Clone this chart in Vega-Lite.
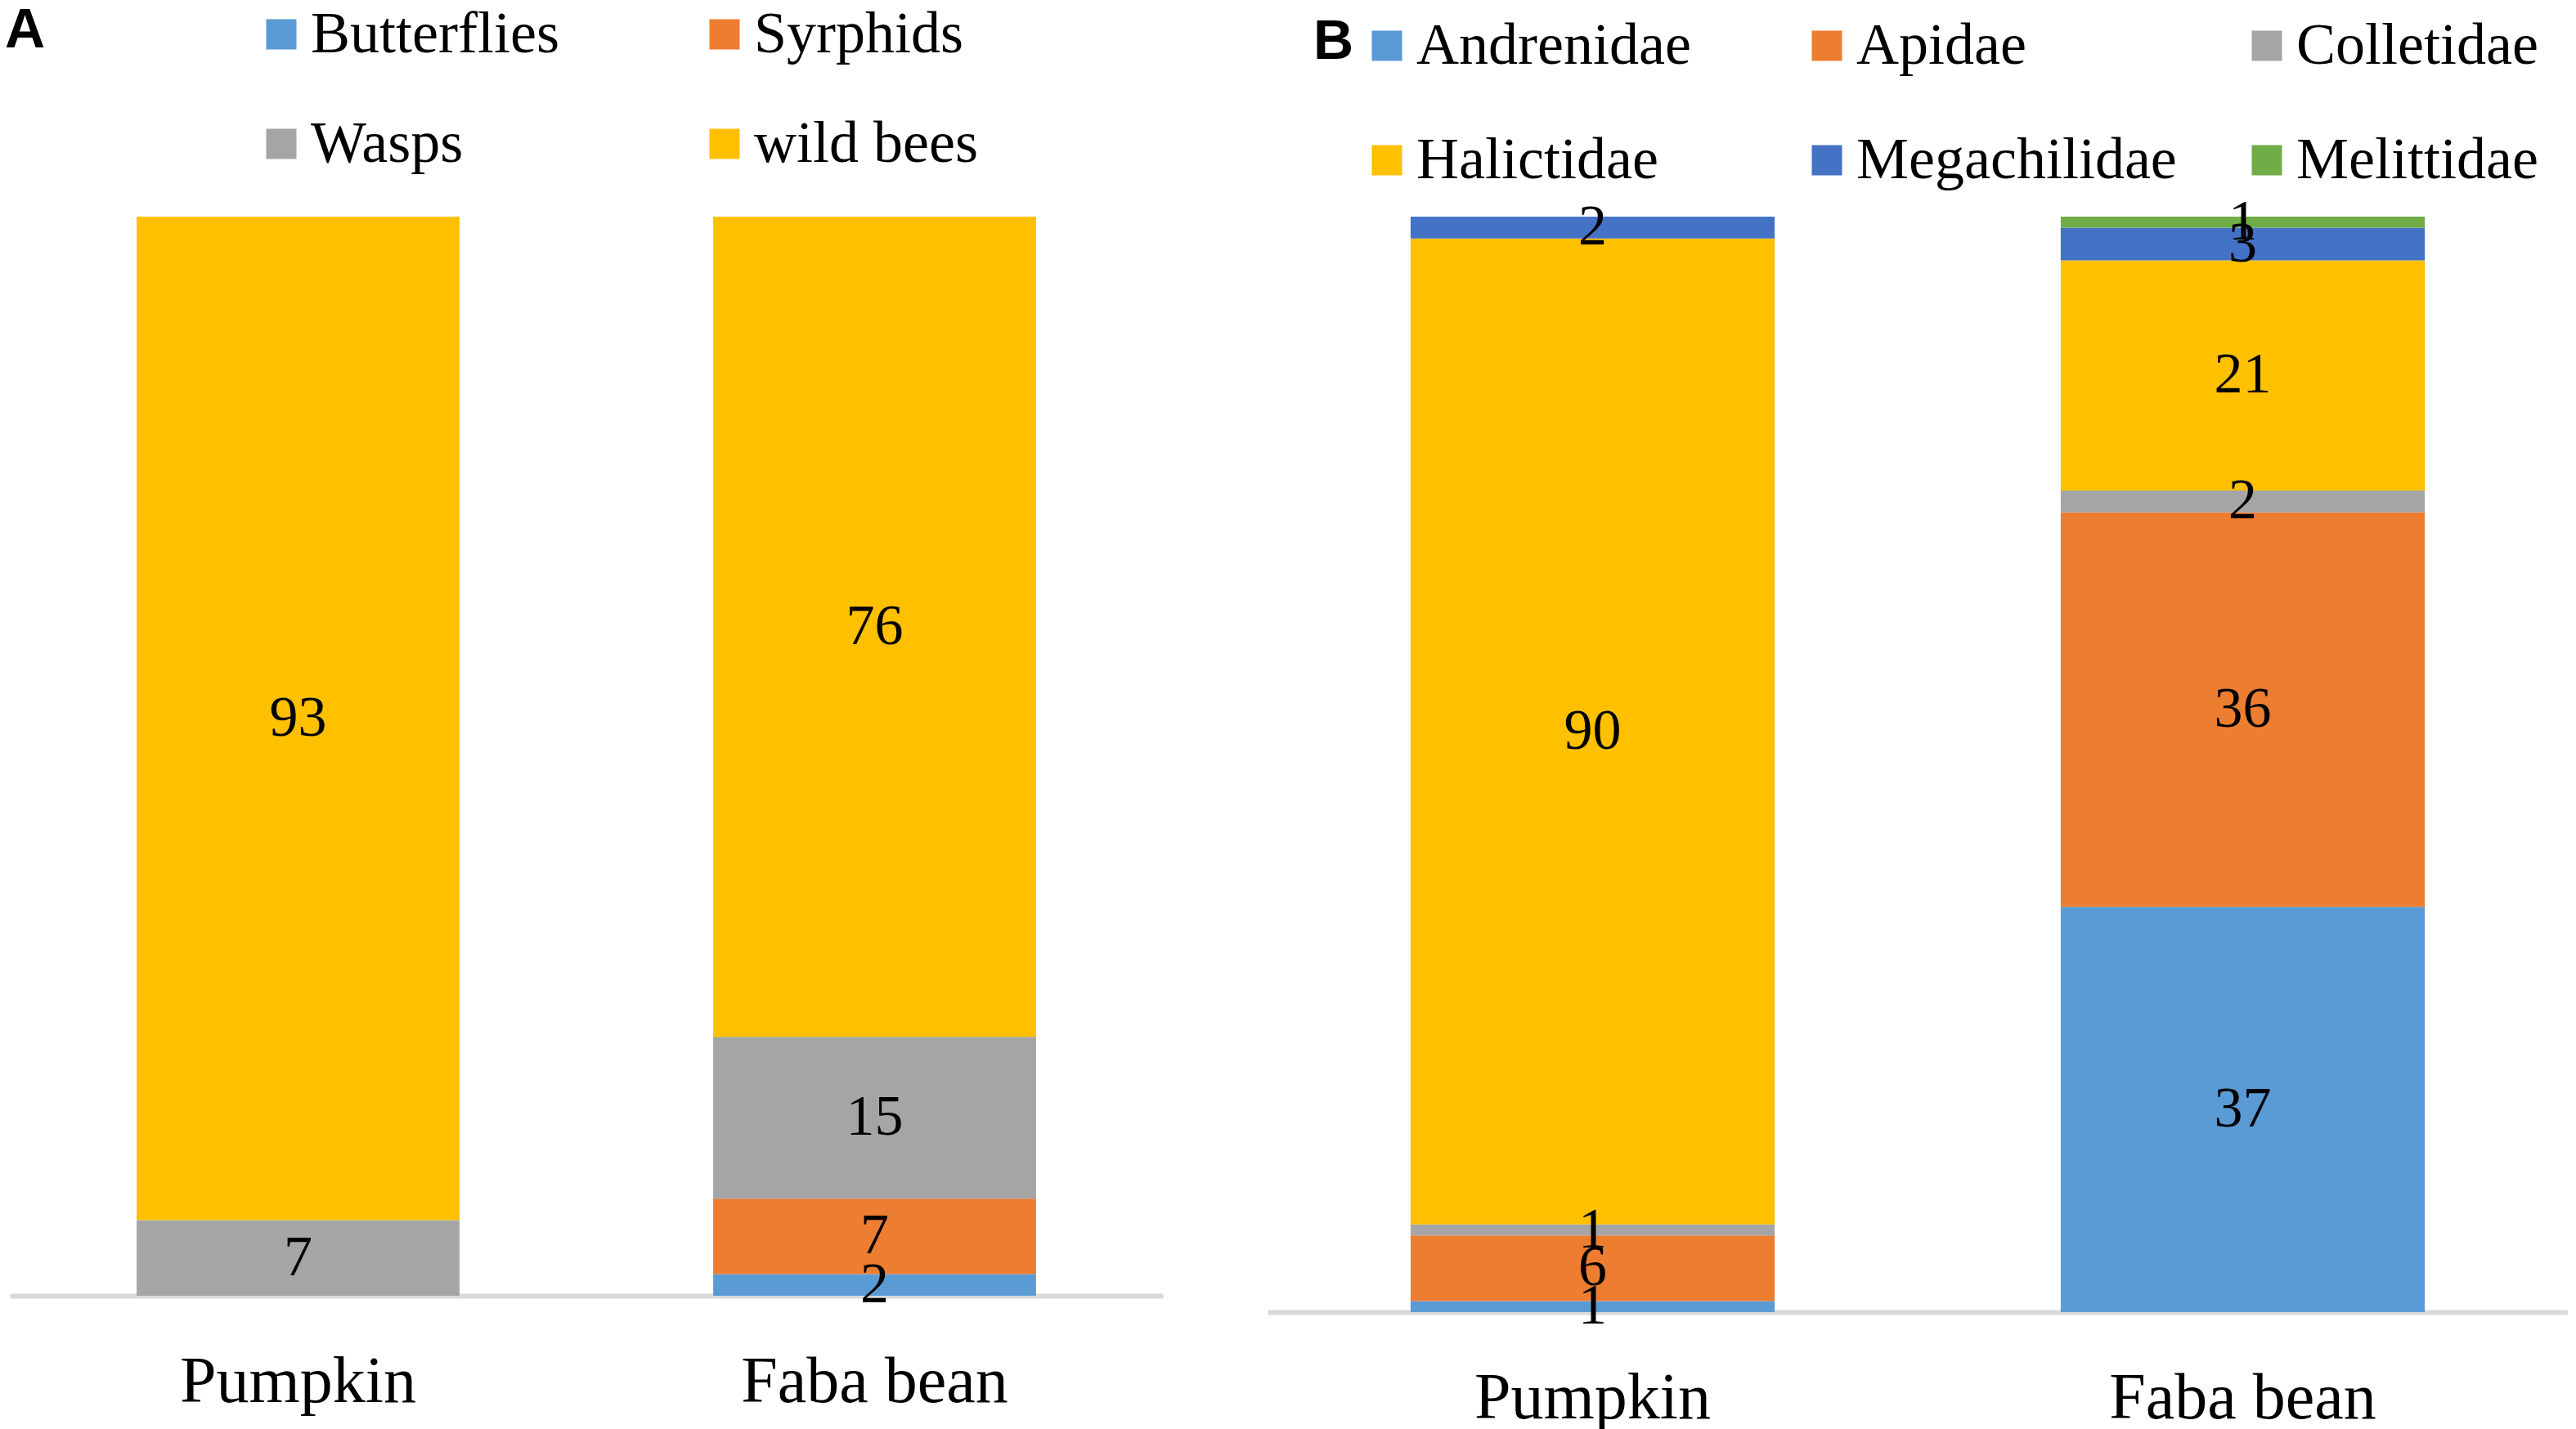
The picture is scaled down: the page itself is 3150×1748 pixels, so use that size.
{
  "$schema": "https://vega.github.io/schema/vega-lite/v6.json",
  "padding": {"left": 6, "top": 4, "right": 0, "bottom": 0},
  "background": "white",
  "config": {
    "view": {"stroke": null},
    "font": "Liberation Serif",
    "concat": {"spacing": 128},
    "axisX": {
      "domainColor": "#D9D9D9",
      "domainWidth": 6,
      "ticks": false,
      "grid": false,
      "labelAngle": 0,
      "labelFont": "Liberation Serif",
      "labelFontSize": 80,
      "labelColor": "black",
      "labelPadding": 66,
      "labelLimit": 0,
      "title": null
    },
    "legend": {
      "orient": "none",
      "direction": "horizontal",
      "title": null,
      "symbolType": "square",
      "symbolSize": 1369,
      "symbolStrokeWidth": 0,
      "labelFont": "Liberation Serif",
      "labelFontSize": 72,
      "labelColor": "black",
      "labelOffset": 0,
      "labelLimit": 0,
      "gridAlign": "all",
      "padding": 0
    },
    "title": {
      "anchor": "start",
      "frame": "group",
      "font": "Liberation Sans",
      "fontWeight": "bold",
      "fontSize": 68,
      "color": "black",
      "dy": 70
    }
  },
  "resolve": {"scale": {"color": "independent", "x": "independent", "y": "independent"}, "legend": {"color": "independent"}},
  "hconcat": [
    {
      "width": 1410,
      "height": 1320,
      "title": {"text": "A", "dx": -6},
      "data": {
        "values": [
          {"crop": "Pumpkin", "group": "Wasps", "count": 7},
          {"crop": "Pumpkin", "group": "wild bees", "count": 93},
          {"crop": "Faba bean", "group": "Butterflies", "count": 2},
          {"crop": "Faba bean", "group": "Syrphids", "count": 7},
          {"crop": "Faba bean", "group": "Wasps", "count": 15},
          {"crop": "Faba bean", "group": "wild bees", "count": 76}
        ]
      },
      "transform": [
        {"stack": "count", "groupby": ["crop"], "sort": [{"field": "group", "order": "ascending"}], "as": ["y0", "y1"]}
      ],
      "encoding": {
        "x": {
          "field": "crop",
          "type": "nominal",
          "sort": ["Pumpkin", "Faba bean"],
          "scale": {"paddingInner": 0.44, "paddingOuter": 0.22}
        }
      },
      "layer": [
        {
          "mark": "bar",
          "encoding": {
            "y": {"field": "y0", "type": "quantitative", "scale": {"domain": [0, 100]}, "axis": null},
            "y2": {"field": "y1"},
            "color": {
              "field": "group",
              "type": "nominal",
              "scale": {
                "domain": ["Butterflies", "Syrphids", "Wasps", "wild bees"],
                "range": ["#5B9BD5", "#ED7D31", "#A5A5A5", "#FFC000"]
              },
              "legend": {"columns": 2, "columnPadding": 166, "rowPadding": 62, "legendX": 296, "legendY": -259}
            }
          }
        },
        {
          "transform": [{"fold": ["y0", "y1"], "as": ["edge", "pos"]}],
          "mark": {"type": "text", "fontSize": 70, "font": "Liberation Serif", "color": "black", "baseline": "middle"},
          "encoding": {
            "y": {"aggregate": "mean", "field": "pos", "type": "quantitative", "stack": null, "scale": {"domain": [0, 100]}, "axis": null},
            "detail": {"field": "group", "type": "nominal"},
            "text": {"field": "count", "type": "quantitative"}
          }
        }
      ]
    },
    {
      "width": 1590,
      "height": 1340,
      "title": {"text": "B", "dx": 56},
      "data": {
        "values": [
          {"crop": "Pumpkin", "group": "Andrenidae", "count": 1},
          {"crop": "Pumpkin", "group": "Apidae", "count": 6},
          {"crop": "Pumpkin", "group": "Colletidae", "count": 1},
          {"crop": "Pumpkin", "group": "Halictidae", "count": 90},
          {"crop": "Pumpkin", "group": "Megachilidae", "count": 2},
          {"crop": "Faba bean", "group": "Andrenidae", "count": 37},
          {"crop": "Faba bean", "group": "Apidae", "count": 36},
          {"crop": "Faba bean", "group": "Colletidae", "count": 2},
          {"crop": "Faba bean", "group": "Halictidae", "count": 21},
          {"crop": "Faba bean", "group": "Megachilidae", "count": 3},
          {"crop": "Faba bean", "group": "Melittidae", "count": 1}
        ]
      },
      "transform": [
        {"stack": "count", "groupby": ["crop"], "sort": [{"field": "group", "order": "ascending"}], "as": ["y0", "y1"]}
      ],
      "encoding": {
        "x": {
          "field": "crop",
          "type": "nominal",
          "sort": ["Pumpkin", "Faba bean"],
          "scale": {"paddingInner": 0.44, "paddingOuter": 0.22}
        }
      },
      "layer": [
        {
          "mark": "bar",
          "encoding": {
            "y": {"field": "y0", "type": "quantitative", "scale": {"domain": [0, 100]}, "axis": null},
            "y2": {"field": "y1"},
            "color": {
              "field": "group",
              "type": "nominal",
              "scale": {
                "domain": ["Andrenidae", "Apidae", "Colletidae", "Halictidae", "Megachilidae", "Melittidae"],
                "range": ["#5B9BD5", "#ED7D31", "#A5A5A5", "#FFC000", "#4472C4", "#70AD47"]
              },
              "legend": {"columns": 3, "columnPadding": 74, "rowPadding": 68, "legendX": 110, "legendY": -245}
            }
          }
        },
        {
          "transform": [{"fold": ["y0", "y1"], "as": ["edge", "pos"]}],
          "mark": {"type": "text", "fontSize": 70, "font": "Liberation Serif", "color": "black", "baseline": "middle"},
          "encoding": {
            "y": {"aggregate": "mean", "field": "pos", "type": "quantitative", "stack": null, "scale": {"domain": [0, 100]}, "axis": null},
            "detail": {"field": "group", "type": "nominal"},
            "text": {"field": "count", "type": "quantitative"}
          }
        }
      ]
    }
  ]
}
